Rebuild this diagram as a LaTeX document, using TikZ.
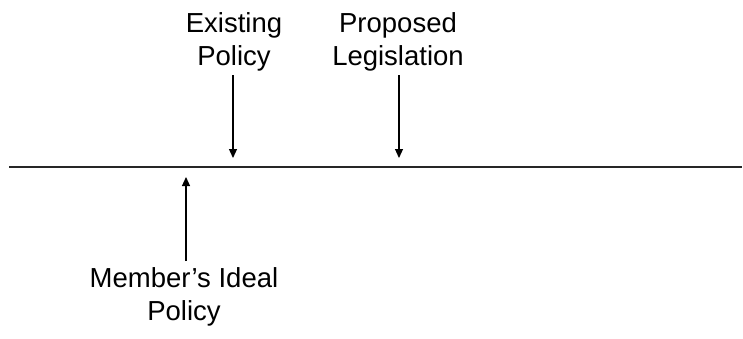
\documentclass[tikz,border=0pt]{standalone}
\usepackage{fontspec}
\setmainfont{Liberation Sans}
\usetikzlibrary{arrows.meta}
\begin{document}
\begin{tikzpicture}[x=1pt,y=-1pt,
  lbl/.style={align=center,anchor=base,inner sep=0pt,font=\fontsize{27.5}{32.5}\selectfont},
  arr/.style={line width=1.2pt,-{Triangle[width=8pt,length=9pt]}},
  axisline/.style={line width=1.5pt,draw=black!85}]
\useasboundingbox (0,0) rectangle (743,338);
\node[lbl] (ex) at (234,65) {Existing\\Policy};
\node[lbl] (pr) at (398,65) {Proposed\\Legislation};
\node[lbl] (mi) at (184,320) {Member’s Ideal\\Policy};
\coordinate (l0) at (9,167);
\coordinate (l1) at (742,167);
\coordinate (exa) at (233,75);
\coordinate (ext) at (233,158);
\coordinate (pra) at (399,75);
\coordinate (prt) at (399,158);
\coordinate (mia) at (186,261);
\coordinate (mit) at (186,177);
\draw[axisline] (l0) -- (l1);
\draw[arr] (exa) -- (ext);
\draw[arr] (pra) -- (prt);
\draw[arr] (mia) -- (mit);
\end{tikzpicture}
\end{document}
